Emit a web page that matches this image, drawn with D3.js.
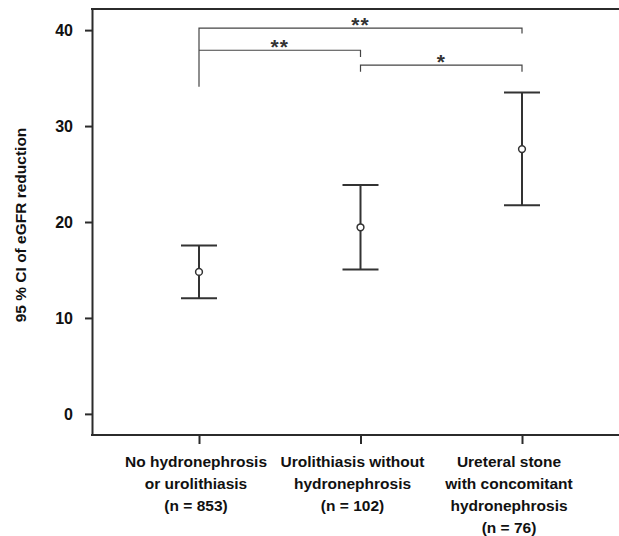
<!DOCTYPE html>
<html>
<head>
<meta charset="utf-8">
<script src="https://cdn.jsdelivr.net/npm/d3@7"></script>
<style>
body { margin: 0; background: #fff; }
svg { display: block; font-family: "Liberation Sans", Arial, sans-serif; }
.axis text { font-size: 16px; font-weight: bold; fill: #111; }
.axis line, .axis path { stroke: #2b2b2b; stroke-width: 2; }
</style>
</head>
<body>
<svg></svg>
<script>
// groups on the x axis, one label line per array entry
var groupLabels = [
    ["No hydronephrosis", "or urolithiasis", "(n = 853)"],
    ["Urolithiasis without", "hydronephrosis", "(n = 102)"],
    ["Ureteral stone", "with concomitant", "hydronephrosis", "(n = 76)"]
];
var groupIds = ["none", "uro", "ureteral"];

// mean and 95 % CI of eGFR reduction
var means = [14.8, 19.45, 27.6];
var lower = [12.05, 15.05, 21.75];
var upper = [17.55, 23.85, 33.5];

var yTicks = [0, 10, 20, 30, 40];
var yTitle = "95 % CI of eGFR reduction";

// significance brackets (values in y units)
var bracketFrom = [0, 0, 1];
var bracketTo = [2, 1, 2];
var bracketLevel = [40.2, 37.9, 36.35];
var bracketLeftEnd = [34.1, 37.9, 35.65];
var bracketRightEnd = [39.65, 37.2, 35.65];
var bracketStars = ["**", "**", "*"];

var screen = {width: 619, height: 536};
var frame = {left: 92, top: 9, right: 619, bottom: 435};

var setup = function()
{
    var svg = d3.select("svg")
    .attr("width", screen.width)
    .attr("height", screen.height);

    var yScale = d3.scaleLinear().domain([-2.2, 42.2]).range([frame.bottom, frame.top]);
    var xScale = d3.scalePoint().domain(groupIds).range([199, 522]);
    var labelScale = d3.scalePoint().domain(groupIds).range([196, 509]);

    drawAxes(svg, xScale, yScale, labelScale);
    drawErrorBars(svg, xScale, yScale);
    drawBrackets(svg, xScale, yScale);
}

var drawAxes = function(svg, xScale, yScale, labelScale)
{
    var yAxis = d3.axisLeft(yScale)
    .tickValues(yTicks)
    .tickSize(7)
    .tickSizeOuter(0)
    .tickPadding(12);

    svg.append("g")
    .classed("axis", true)
    .attr("transform", "translate(" + frame.left + ",0)")
    .call(yAxis);

    var xAxis = d3.axisBottom(xScale)
    .tickSize(9)
    .tickSizeOuter(0)
    .tickFormat("");

    var gx = svg.append("g")
    .classed("axis", true)
    .attr("transform", "translate(0," + frame.bottom + ")")
    .call(xAxis);
    gx.select(".domain").remove();

    // top and bottom frame lines
    svg.append("g")
    .selectAll("line")
    .data([frame.top, frame.bottom])
    .enter()
    .append("line")
    .attr("x1", frame.left - 1)
    .attr("x2", frame.right)
    .attr("y1", function(d){ return d; })
    .attr("y2", function(d){ return d; })
    .attr("stroke", "#2b2b2b")
    .attr("stroke-width", 2);

    // category labels
    var labels = svg.append("g")
    .selectAll("text")
    .data(groupIds)
    .enter()
    .append("text")
    .attr("text-anchor", "middle")
    .attr("font-size", 15.5)
    .attr("font-weight", "bold")
    .attr("fill", "#111")
    .attr("transform", function(d){ return "translate(" + labelScale(d) + ",467)"; });

    labels.selectAll("tspan")
    .data(function(d, i){ return groupLabels[i]; })
    .enter()
    .append("tspan")
    .attr("x", 0)
    .attr("y", function(d, i){ return i * 22; })
    .text(function(d){ return d; });

    svg.append("text")
    .attr("transform", "translate(26," + ((yScale(0) + yScale(40)) / 2 + 3) + ") rotate(-90)")
    .attr("text-anchor", "middle")
    .attr("font-size", 15.5)
    .attr("font-weight", "bold")
    .attr("fill", "#111")
    .text(yTitle);
}

var drawErrorBars = function(svg, xScale, yScale)
{
    var cap = 18;
    var g = svg.append("g")
    .attr("stroke", "#333")
    .attr("stroke-width", 2);

    var bars = g.selectAll("g")
    .data(groupIds)
    .enter()
    .append("g");

    bars.append("line")
    .attr("x1", function(d){ return xScale(d); })
    .attr("x2", function(d){ return xScale(d); })
    .attr("y1", function(d, i){ return yScale(lower[i]); })
    .attr("y2", function(d, i){ return yScale(upper[i]); });

    bars.append("line")
    .attr("x1", function(d){ return xScale(d) - cap; })
    .attr("x2", function(d){ return xScale(d) + cap; })
    .attr("y1", function(d, i){ return yScale(upper[i]); })
    .attr("y2", function(d, i){ return yScale(upper[i]); });

    bars.append("line")
    .attr("x1", function(d){ return xScale(d) - cap; })
    .attr("x2", function(d){ return xScale(d) + cap; })
    .attr("y1", function(d, i){ return yScale(lower[i]); })
    .attr("y2", function(d, i){ return yScale(lower[i]); });

    bars.append("circle")
    .attr("cx", function(d){ return xScale(d); })
    .attr("cy", function(d, i){ return yScale(means[i]); })
    .attr("r", 3.4)
    .attr("fill", "#fff")
    .attr("stroke-width", 1.5);
}

var drawBrackets = function(svg, xScale, yScale)
{
    var g = svg.append("g");

    var b = g.selectAll("g")
    .data(bracketStars)
    .enter()
    .append("g");

    b.append("path")
    .attr("fill", "none")
    .attr("stroke", "#444")
    .attr("stroke-width", 1.2)
    .attr("d", function(d, i){
        var x0 = xScale(groupIds[bracketFrom[i]]);
        var x1 = xScale(groupIds[bracketTo[i]]);
        return "M" + x0 + "," + yScale(bracketLeftEnd[i]) +
            "V" + yScale(bracketLevel[i]) +
            "H" + x1 +
            "V" + yScale(bracketRightEnd[i]);
    });

    b.append("text")
    .attr("x", function(d, i){
        return (xScale(groupIds[bracketFrom[i]]) + xScale(groupIds[bracketTo[i]])) / 2;
    })
    .attr("y", function(d, i){ return yScale(bracketLevel[i]) + 4; })
    .attr("text-anchor", "middle")
    .attr("font-size", 21)
    .attr("font-weight", "bold")
    .attr("letter-spacing", 1)
    .attr("fill", "#333")
    .text(function(d){ return d; });
}

setup();
</script>
</body>
</html>
